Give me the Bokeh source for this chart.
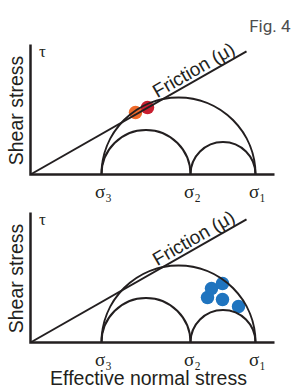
import math
from bokeh.plotting import figure
from bokeh.models import Range1d, Label
from bokeh.embed import file_html
from bokeh.resources import INLINE

# ---- data (stress units, origin at the axes corner of each panel) ----
sigma_labels = ["σ₃", "σ₂", "σ₁"]
sigma_values = [71, 160, 225]          # sigma3, sigma2, sigma1
friction_mu = 0.57
friction_end_x = 216
axis_x_max = 244
axis_y_max = 130
top_dot_x = [105, 117]
top_dot_y = [62, 67]
top_dot_colors = ["#ee6a2a", "#c81f30"]
bottom_dot_x = [177, 181, 192, 192, 208]
bottom_dot_y = [45, 54, 59, 43, 36]
bottom_dot_color = "#1f74bf"

INK = "#231f20"
SANS = "Liberation Sans"

# one canvas, 1 data unit = 1 screen pixel; x=0 / y=0 at the top panel's axes corner
p = figure(width=291, height=385, min_border=0,
           x_range=Range1d(-30, 261), y_range=Range1d(-211, 174),
           output_backend="svg", toolbar_location=None,
           outline_line_color=None, background_fill_color=None,
           border_fill_color=None)
p.axis.visible = False
p.grid.visible = False


def panel(oy, dots_x, dots_y, dots_c, xlabel=None):
    s3, s2, s1 = sigma_values
    # dots underneath the lines
    p.scatter(dots_x, [oy + v for v in dots_y], size=13.5, color=dots_c, line_color=None)
    # Mohr circles (upper halves)
    pairs = [(s3, s1), (s3, s2), (s2, s1)]
    cx = [(a + b) / 2 for a, b in pairs]
    rr = [(b - a) / 2 for a, b in pairs]
    p.arc(x=cx, y=[oy] * 3, radius=rr, start_angle=0, end_angle=math.pi,
          line_color=INK, line_width=2)
    # friction line
    p.line([0, friction_end_x], [oy, oy + friction_mu * friction_end_x],
           line_color=INK, line_width=2)
    # axes
    p.line([0, 0, axis_x_max], [oy + axis_y_max, oy, oy],
           line_color=INK, line_width=2.5, line_join="miter")
    # sigma labels
    for v, t in zip(sigma_values, sigma_labels):
        p.add_layout(Label(x=v + 2, y=oy - 6, text=t, text_font="Liberation Serif",
                           text_font_size="19px", text_color=INK,
                           text_align="center", text_baseline="top"))
    # texts
    th = math.atan(friction_mu)
    s, off = 148, 10
    fx = s * math.cos(th) - off * math.sin(th)
    fy = s * math.sin(th) + off * math.cos(th)
    p.add_layout(Label(x=fx, y=oy + fy, text="Friction (μ)", angle=th,
                       text_font=SANS, text_font_size="19px", text_color=INK,
                       text_baseline="alphabetic", text_align="left"))
    p.add_layout(Label(x=12, y=oy + 123, text="τ", text_font="Liberation Serif",
                       text_font_size="17px", text_color=INK,
                       text_align="center", text_baseline="middle"))
    p.add_layout(Label(x=-15, y=oy + 64, text="Shear stress", angle=math.pi / 2,
                       text_font=SANS, text_font_size="19.5px", text_color=INK,
                       text_align="center", text_baseline="middle"))
    if xlabel:
        p.add_layout(Label(x=118, y=oy - 35, text=xlabel, text_font=SANS,
                           text_font_size="19.5px", text_color=INK,
                           text_align="center", text_baseline="alphabetic"))


panel(0, top_dot_x, top_dot_y, top_dot_colors)
panel(-168, bottom_dot_x, bottom_dot_y, bottom_dot_color, xlabel="Effective normal stress")
p.add_layout(Label(x=260, y=149, text="Fig. 4", text_font="Roboto",
                   text_font_size="17px", text_color="#4d4d4d",
                   text_align="right", text_baseline="alphabetic"))

open("out.html", "w").write(file_html(p, INLINE))
